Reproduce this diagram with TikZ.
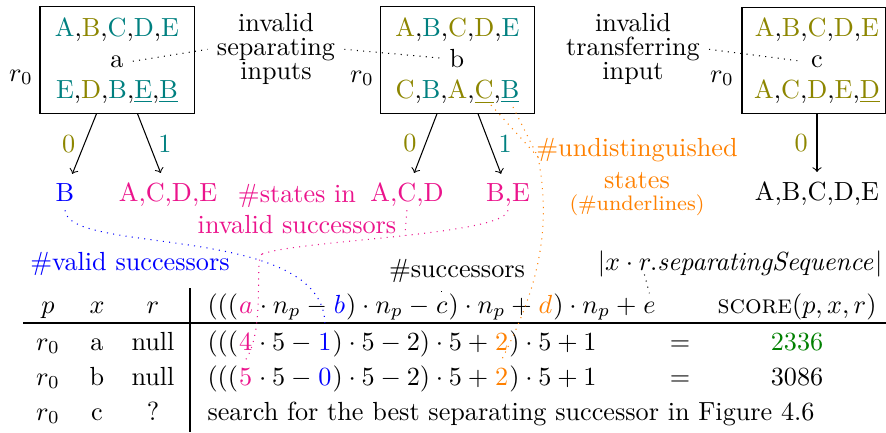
\documentclass[tikz,border=0pt]{standalone}
\usepackage{tikz}
\definecolor{Inv}{RGB}{235,20,140}
\definecolor{Best}{RGB}{0,128,0}
\newcommand{\Te}[1]{\textcolor{teal}{#1}}
\newcommand{\Ol}[1]{\textcolor{olive}{#1}}

\begin{document}
\begin{tikzpicture}[x=0.3817pt,y=0.3817pt,
  statebox/.style={draw,minimum width=58.8pt,minimum height=40.5pt,inner sep=0pt},
  txt/.style={anchor=base},
  kid/.style={anchor=base,text depth=0pt},
  remark/.style={align=center},
  piece/.style={anchor=base west,inner xsep=0pt,inner ysep=3pt},
  link/.style={dotted}]
\path[use as bounding box] (0,0) rectangle (886,-432);
% splitting states
\node[statebox] (boxa) at (117,-60) {};
\node[statebox] (boxb) at (457.5,-60) {};
\node[statebox,minimum width=54.6pt] (boxc) at (813.5,-60.5) {};
\node[txt] (ta) at (117,-36) {\Te{A},\Ol{B},\Te{C},\Te{D},\Te{E}};
\node[txt] (ma) at (117,-67) {a};
\node[txt] (ba) at (117,-98) {\Te{E},\Ol{D},\Te{B},\Te{\underline{E}},\Te{\underline{B}}};
\node[txt] (tb) at (457.5,-36) {\Ol{A},\Te{B},\Ol{C},\Ol{D},\Te{E}};
\node[txt] (mb) at (457,-67) {b};
\node[txt] (bb) at (457.5,-98) {\Ol{C},\Te{B},\Ol{A},\Ol{\underline{C}},\Te{\underline{B}}};
\node[txt] (tc) at (817,-36) {\Ol{A},\Ol{B},\Ol{C},\Ol{D},\Ol{E}};
\node[txt] (mc) at (817,-67) {c};
\node[txt] (bc) at (817,-98) {\Ol{A},\Ol{C},\Ol{D},\Ol{E},\Ol{\underline{D}}};
\node[txt] (ra) at (21,-81) {$r_0$};
\node[txt] (rb) at (362,-82) {$r_0$};
\node[txt] (rc) at (722,-82) {$r_0$};
% remarks
\node[remark,font=\fontsize{10}{9.2}\selectfont] (sepnote) at (276,-49.3) {invalid\\separating\\inputs};
\node[remark,font=\fontsize{10}{9.2}\selectfont] (transnote) at (633,-49.3) {invalid\\transferring\\input};
\node[remark,text=orange] (undnote) at (637,-177) {\#undistinguished\\states\\[-3.5pt]{\footnotesize(\#underlines)}};
\node[remark,text=Inv] (invnote) at (297,-209) {\#states in\\invalid successors};
\node[txt,text=blue] (validnote) at (130,-270) {\#valid successors};
\node[txt] (succnote) at (457,-277) {\#successors};
\node[anchor=base east,inner sep=0pt] (ssq) at (883,-270) {$|x\cdot r.\mathit{separatingSequence}|$};
% successors
\node[kid,text=blue] (nB) at (65,-201) {B};
\node[kid,text=Inv] (nACDE) at (168,-201) {A,C,D,E};
\node[kid,text=Inv] (nACD) at (407,-201) {A,C,D};
\node[kid,text=Inv] (nBE) at (508,-201) {B,E};
\node[kid] (nAll) at (817,-200) {A,B,C,D,E};
\draw[->] ([xshift=-7.8pt]boxa.south) -- node[left,text=olive] {0} (nB);
\draw[->] ([xshift=7.8pt]boxa.south) -- node[right,text=teal] {1} (nACDE);
\draw[->] ([xshift=-7.8pt]boxb.south) -- node[left,text=olive] {0} (nACD);
\draw[->] ([xshift=7.8pt]boxb.south) -- node[right,text=teal] {1} (nBE);
\draw[->] (boxc.south -| nAll) -- node[left,text=olive] {0} (nAll);
% table header
\node[txt] (hp) at (48,-313) {$p$};
\node[txt] (hx) at (97,-313) {$x$};
\node[txt] (hr) at (153,-313) {$r$};
\node[piece] (h0) at (207,-313) {$((($};
\node[piece,text=Inv] (ha) at (h0.base east) {$a$};
\node[piece] (h1) at (ha.base east) {${}\cdot n_p-{}$};
\node[piece,text=blue] (hb) at (h1.base east) {$b$};
\node[piece] (h2) at (hb.base east) {$)\cdot n_p-{}$};
\node[piece] (hc) at (h2.base east) {$c$};
\node[piece] (h3) at (hc.base east) {$)\cdot n_p+{}$};
\node[piece,text=orange] (hd) at (h3.base east) {$d$};
\node[piece] (h4) at (hd.base east) {$)\cdot n_p+{}$};
\node[piece] (he) at (h4.base east) {$e$};
\node[txt] (hs) at (797,-313) {\textsc{score}$(p,x,r)$};
% row a
\node[txt] (rap) at (48,-350) {$r_0$};
\node[txt] (rax) at (97,-350) {a};
\node[txt] (rar) at (153,-350) {null};
\node[piece] (a0) at (207,-350) {$((($};
\node[piece,text=Inv] (afour) at (a0.base east) {$4$};
\node[piece] (a1) at (afour.base east) {${}\cdot 5-{}$};
\node[piece,text=blue] (aone) at (a1.base east) {$1$};
\node[piece] (a2) at (aone.base east) {$)\cdot 5-2)\cdot 5+{}$};
\node[piece,text=orange] (atwo) at (a2.base east) {$2$};
\node[piece] (a3) at (atwo.base east) {$)\cdot 5+1$};
\node[txt] (raeq) at (680,-350) {$=$};
\node[txt,text=Best] (ras) at (797,-350) {2336};
% row b
\node[txt] (rbp) at (48,-385) {$r_0$};
\node[txt] (rbx) at (97,-385) {b};
\node[txt] (rbr) at (153,-385) {null};
\node[piece] (b0) at (207,-385) {$((($};
\node[piece,text=Inv] (bfive) at (b0.base east) {$5$};
\node[piece] (b1) at (bfive.base east) {${}\cdot 5-{}$};
\node[piece,text=blue] (bzero) at (b1.base east) {$0$};
\node[piece] (b2) at (bzero.base east) {$)\cdot 5-2)\cdot 5+{}$};
\node[piece,text=orange] (btwo) at (b2.base east) {$2$};
\node[piece] (b3) at (btwo.base east) {$)\cdot 5+1$};
\node[txt] (rbeq) at (680,-385) {$=$};
\node[txt] (rbs) at (797,-385) {3086};
% row c
\node[txt] (rcp) at (48,-420) {$r_0$};
\node[txt] (rcx) at (97,-420) {c};
\node[txt] (rcr) at (153,-420) {?};
\node[anchor=base west,inner sep=0pt] (rcs) at (207,-420) {search for the best separating successor in Figure 4.6};
\draw[line width=0.6pt] (23,-323) -- (886,-323);
\draw (190,-288) -- (190,-432);
% dotted hints
\draw[link] (ma.east) -- (sepnote.west);
\draw[link] (sepnote.east) -- (mb.west);
\draw[link] (transnote.east) -- (mc.west);
\draw[link,blue] (nB.south) .. controls +(3,-45) and +(0,102) .. (aone.north);
\coordinate (mjoin) at (262,-254);
\draw[link,Inv] (nBE.south) .. controls +(-3,-25) and +(38,14) .. coordinate[pos=0.48] (macd) (mjoin);
\draw[link,Inv] (nACD.south) -- (macd);
\draw[link,Inv] (mjoin) .. controls +(-8,-3) and +(20,30) .. (bfive.north);
\coordinate (uC) at (491,-105);
\coordinate (uB) at (513,-107);
\coordinate (ujoin) at (538,-157);
\draw[link,orange] (uC) -- (ujoin);
\draw[link,orange] (uB) -- (ujoin);
\draw[link,orange] (ujoin) .. controls +(16,-82) and +(30,60) .. (btwo.north);
\draw[link] (succnote.south -| hc.north) -- (hc.north);
\draw[link] ([xshift=18pt,yshift=1pt]ssq.south west) -- (he.north);
\end{tikzpicture}
\end{document}
